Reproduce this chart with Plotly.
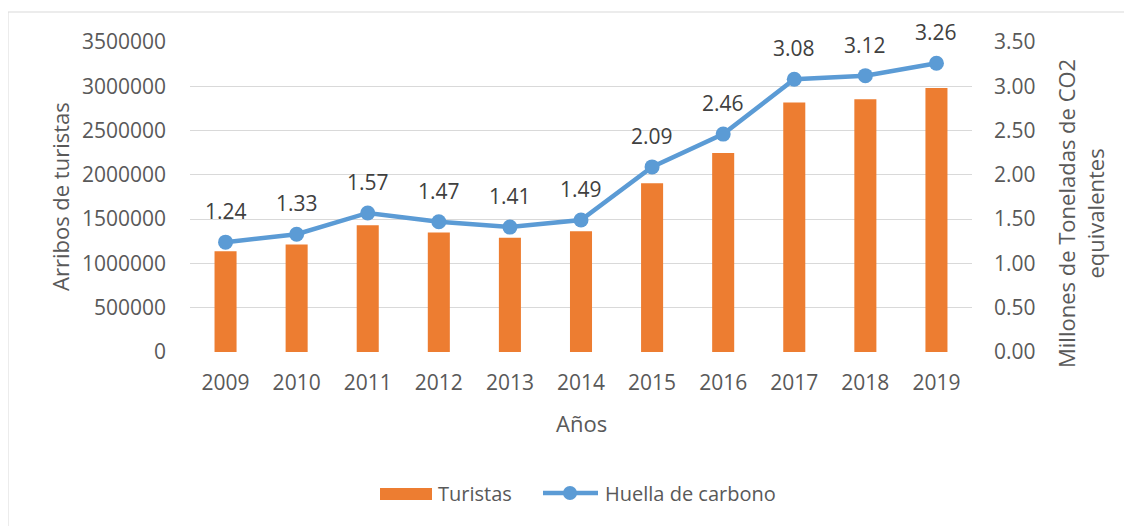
import plotly.graph_objects as go

years = ["2009", "2010", "2011", "2012", "2013", "2014", "2015", "2016", "2017", "2018", "2019"]
turistas = [1137000, 1213000, 1431000, 1348000, 1291000, 1363000, 1905000, 2247000, 2816000, 2853000, 2981000]
huella = [1.24, 1.33, 1.57, 1.47, 1.41, 1.49, 2.09, 2.46, 3.08, 3.12, 3.26]
left_ticks = [0, 500000, 1000000, 1500000, 2000000, 2500000, 3000000, 3500000]
right_ticks = [0, 0.5, 1.0, 1.5, 2.0, 2.5, 3.0, 3.5]

FONT = "Open Sans"
GRAY = "#595959"
ORANGE = "#ED7D31"
BLUE = "#5B9BD5"

# page has an 8px body margin; the figure is shifted accordingly
OFF = 8
W, H = 1132 - OFF, 526 - OFF
PL, PR, PT, PB = 190, 972, 42, 352  # plot area in screen px


def px(x):
    return (x - PL) / (PR - PL)


def py(y):
    return (PB - y) / (PB - PT)


fig = go.Figure()
fig.add_trace(go.Bar(
    x=years, y=turistas, name="Turistas",
    marker=dict(color=ORANGE, line=dict(width=0)),
    width=0.31, yaxis="y", showlegend=False,
))
fig.add_trace(go.Scatter(
    x=years, y=huella, name="Huella de carbono",
    mode="lines+markers",
    line=dict(color=BLUE, width=4.5),
    marker=dict(color=BLUE, size=15),
    yaxis="y2", cliponaxis=False, showlegend=False,
))

annotations = []
for i, v in enumerate(huella):
    annotations.append(dict(
        x=i, y=v, xref="x", yref="y2", text=f"{v:.2f}", showarrow=False,
        xanchor="center", yanchor="middle",
        yshift=31, font=dict(family=FONT, size=21, color="#404040"),
    ))

# axis titles
annotations.append(dict(
    x=px(60), y=py(197), xref="paper", yref="paper", text="Arribos de turistas",
    xanchor="center", yanchor="middle",
    textangle=-90, showarrow=False, font=dict(family=FONT, size=22, color=GRAY),
))
annotations.append(dict(
    x=px(1080), y=py(214), xref="paper", yref="paper",
    text="Millones de Toneladas de CO2<br>equivalentes",
    xanchor="center", yanchor="middle",
    textangle=-90, showarrow=False, font=dict(family=FONT, size=22, color=GRAY),
))
annotations.append(dict(
    x=0.5, y=py(423), xref="paper", yref="paper", text="Años",
    xanchor="center", yanchor="middle",
    showarrow=False, font=dict(family=FONT, size=22, color=GRAY),
))
# legend texts
annotations.append(dict(
    x=px(436), y=py(493), xref="paper", yref="paper", text="Turistas",
    xanchor="left", yanchor="middle", showarrow=False,
    font=dict(family=FONT, size=20, color=GRAY),
))
annotations.append(dict(
    x=px(603), y=py(493), xref="paper", yref="paper", text="Huella de carbono",
    xanchor="left", yanchor="middle", showarrow=False,
    font=dict(family=FONT, size=20, color=GRAY),
))

shapes = [
    # outer chart border (top and left visible)
    dict(type="line", xref="paper", yref="paper", x0=px(8), x1=px(1140),
         y0=py(12), y1=py(12), line=dict(color="#D9D9D9", width=1)),
    dict(type="line", xref="paper", yref="paper", x0=px(8), x1=px(8),
         y0=py(12), y1=py(540), line=dict(color="#D9D9D9", width=1)),
    # legend symbols
    dict(type="rect", xref="paper", yref="paper", x0=px(380), x1=px(432),
         y0=py(500), y1=py(488), fillcolor=ORANGE, line=dict(width=0)),
    dict(type="line", xref="paper", yref="paper", x0=px(543), x1=px(598),
         y0=py(493), y1=py(493), line=dict(color=BLUE, width=4.5)),
    dict(type="circle", xref="paper", yref="paper", x0=px(563), x1=px(577),
         y0=py(500), y1=py(486), fillcolor=BLUE, line=dict(width=0)),
]

fig.update_layout(
    width=W, height=H,
    margin=dict(l=PL - OFF, r=W - (PR - OFF), t=PT - OFF, b=H - (PB - OFF)),
    paper_bgcolor="white", plot_bgcolor="white",
    font=dict(family=FONT, size=21, color=GRAY),
    showlegend=False,
    xaxis=dict(
        type="category", showgrid=False, showline=False, ticks="",
        range=[-0.5, len(years) - 0.5], autorange=False,
        tickfont=dict(size=21, color=GRAY), ticklabelstandoff=16,
    ),
    yaxis=dict(
        range=[0, 3500000], tickvals=left_ticks, tickformat="d",
        showgrid=True, gridcolor="#D9D9D9", gridwidth=1,
        zeroline=False, showline=False, ticks="",
        ticklabelstandoff=23,
        tickfont=dict(size=21, color=GRAY),
    ),
    yaxis2=dict(
        range=[0, 3.5], tickvals=right_ticks, tickformat=".2f",
        overlaying="y", side="right", showgrid=False, zeroline=False,
        showline=False, ticks="", ticklabelstandoff=21,
        tickfont=dict(size=21, color=GRAY),
    ),
    annotations=annotations,
    shapes=shapes,
)

fig.write_html("out.html")
